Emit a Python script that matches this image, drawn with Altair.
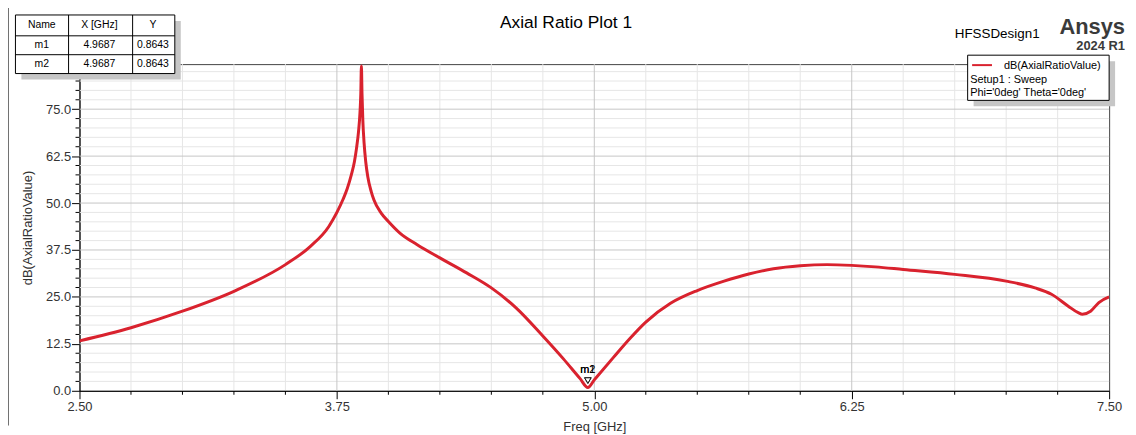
import altair as alt
import pandas as pd

# ---------------- data ----------------
FREQ = [2.50, 2.75, 3.00, 3.25, 3.50, 3.62, 3.71, 3.75, 3.78, 3.80, 3.82, 3.835,
        3.845, 3.855, 3.862, 3.866, 3.869, 3.872, 3.876, 3.882, 3.89, 3.90, 3.917,
        3.93, 3.965, 4.00, 4.056, 4.14, 4.25, 4.38, 4.50, 4.62, 4.75, 4.85, 4.93,
        4.9687, 5.00, 5.093, 5.174, 5.25, 5.37, 5.50, 5.63, 5.75, 5.87, 6.00, 6.13,
        6.25, 6.365, 6.50, 6.75, 7.00, 7.14, 7.22, 7.30, 7.35, 7.37, 7.41, 7.45, 7.50]
AR_DB = [13.3, 16.8, 21.2, 26.5, 33.6, 38.4, 43.7, 47.5, 51.0, 53.8, 57.5, 61.0,
         64.5, 69.0, 74.0, 79.0, 86.5, 79.0, 72.0, 66.0, 61.0, 57.0, 53.0,
         50.8, 47.3, 45.1, 42.0, 38.9, 35.4, 31.4, 27.4, 22.1, 14.6, 8.5, 3.3,
         0.8643, 2.9, 8.9, 14.0, 18.3, 23.3, 26.7, 29.2, 31.1, 32.5, 33.3, 33.6,
         33.4, 33.0, 32.3, 31.0, 29.2, 27.4, 25.7, 22.6, 20.8, 20.4, 21.2, 23.5, 25.0]

MARKER_NAMES = ["m1", "m2"]
MARKER_X = [4.9687, 4.9687]
MARKER_Y = [0.8643, 0.8643]
MARKER_X_TXT = ["4.9687", "4.9687"]
MARKER_Y_TXT = ["0.8643", "0.8643"]
TABLE_HEADERS = ["Name", "X [GHz]", "Y"]

X_LABELS = [2.50, 3.75, 5.00, 6.25, 7.50]
X_GRID_MAJOR = [3.75, 5.00, 6.25]
X_MINOR = [2.75, 3.00, 3.25, 3.50, 4.00, 4.25, 4.50, 4.75,
           5.25, 5.50, 5.75, 6.00, 6.50, 6.75, 7.00, 7.25]
Y_LABELS = [0.0, 12.5, 25.0, 37.5, 50.0, 62.5, 75.0]
Y_GRID_MAJOR = [12.5, 25.0, 37.5, 50.0, 62.5, 75.0]
Y_MINOR = [2.5, 5.0, 7.5, 10.0, 15.0, 17.5, 20.0, 22.5, 27.5, 30.0, 32.5, 35.0,
           40.0, 42.5, 45.0, 47.5, 52.5, 55.0, 57.5, 60.0, 65.0, 67.5, 70.0,
           72.5, 77.5, 80.0, 82.5, 85.0]

TITLE = "Axial Ratio Plot 1"
DESIGN = "HFSSDesign1"
BRAND = "Ansys"
VERSION = "2024 R1"
SERIES = "dB(AxialRatioValue)"
LEGEND_LINES = ["Setup1 : Sweep", "Phi='0deg' Theta='0deg'"]

FONT = "Liberation Sans"
RED = "#d9222e"
GRID_MINOR = "#e6e6e6"
GRID_MAJOR = "#c6c6c6"

curve = pd.DataFrame({"freq": FREQ, "ar": AR_DB})
markers = pd.DataFrame({"name": MARKER_NAMES, "x": MARKER_X, "y": MARKER_Y})
one = pd.DataFrame({"k": [0]})

W, H = 1037, 329

xscale = alt.Scale(domain=[2.5, 7.5], nice=False, zero=False)
yscale = alt.Scale(domain=[0, 87], nice=False, zero=False)

xaxis = alt.Axis(
    values=X_LABELS, title="Freq [GHz]", format=".2f", grid=False,
    labelOverlap=False, labelFlush=False, labelFont=FONT, labelFontSize=13,
    labelColor="#333333", labelPadding=2, tickSize=8,
    tickColor="#000000", domainColor="#000000",
    titleFont=FONT, titleFontSize=13, titleFontWeight="normal", titleColor="#333333",
    titleY=30,
)
yaxis = alt.Axis(
    values=Y_LABELS, title="dB(AxialRatioValue)", format=".1f", grid=False,
    labelOverlap=False, labelFlush=False, labelFont=FONT, labelFontSize=13,
    labelColor="#333333", labelPadding=1, tickSize=8,
    tickColor="#000000", domainColor="#000000",
    titleFont=FONT, titleFontSize=13, titleFontWeight="normal", titleColor="#333333",
    titlePadding=11,
)

XT = "Freq [GHz]"
YT = "dB(AxialRatioValue)"


def vrules(values, color, y1, y2):
    return alt.Chart(pd.DataFrame({"v": values})).mark_rule(color=color, strokeWidth=1).encode(
        x=alt.X("v:Q", scale=xscale, axis=xaxis, title=XT), y=alt.value(y1), y2=alt.value(y2))


def hrules(values, color, x1, x2):
    return alt.Chart(pd.DataFrame({"v": values})).mark_rule(color=color, strokeWidth=1).encode(
        y=alt.Y("v:Q", scale=yscale, axis=yaxis, title=YT), x=alt.value(x1), x2=alt.value(x2))


grid = [
    vrules(X_MINOR, GRID_MINOR, 0, H),
    hrules(Y_MINOR, GRID_MINOR, 0, W),
    vrules(X_GRID_MAJOR, GRID_MAJOR, 0, H),
    hrules(Y_GRID_MAJOR, GRID_MAJOR, 0, W),
    vrules(X_MINOR, "#000000", H, H + 4),
    hrules(Y_MINOR, "#000000", -4, 0),
]

line = alt.Chart(curve).mark_line(color=RED, strokeWidth=3, interpolate="monotone", clip=True).encode(
    x=alt.X("freq:Q", scale=xscale, axis=xaxis, title=XT),
    y=alt.Y("ar:Q", scale=yscale, axis=yaxis, title=YT),
)

tri = alt.Chart(markers).mark_point(shape="triangle-down", filled=False, color="#000000",
                                    size=45, strokeWidth=1, yOffset=-7).encode(
    x=alt.X("x:Q", scale=xscale, axis=xaxis, title=XT),
    y=alt.Y("y:Q", scale=yscale, axis=yaxis, title=YT))
mlab = alt.Chart(markers).mark_text(font=FONT, fontSize=11, color="#000000", dy=-18).encode(
    x=alt.X("x:Q", scale=xscale, axis=xaxis, title=XT),
    y=alt.Y("y:Q", scale=yscale, axis=yaxis, title=YT),
    text="name:N")


def txt(s, x, y, size=11, weight="normal", align="center", color="#000000"):
    return alt.Chart(one).mark_text(text=s, font=FONT, fontSize=size, fontWeight=weight,
                                    align=align, baseline="middle", color=color).encode(
        x=alt.value(x), y=alt.value(y))


def box(x1, x2, y1, y2, fill, stroke=None):
    kw = {"fill": fill}
    if stroke:
        kw.update(stroke=stroke, strokeWidth=1)
    return alt.Chart(one).mark_rect(**kw).encode(
        x=alt.value(x1), x2=alt.value(x2), y=alt.value(y1), y2=alt.value(y2))


def rule(x1, x2, y1, y2, color="#000000", width=1):
    return alt.Chart(one).mark_rule(color=color, strokeWidth=width).encode(
        x=alt.value(x1), x2=alt.value(x2), y=alt.value(y1), y2=alt.value(y2))


layers = grid + [line, tri, mlab]

# outer window border at the far left
layers.append(rule(-71.5, -71.5, -63, 364, color="#707070"))

# marker table (top-left)
tx1, tx2, ty1, ty2 = -64.5, 96, -49.5, 9.5
layers.append(box(tx1 + 6, tx2 + 6, ty1 + 6, ty2 + 6, "#c6c6c6"))
layers.append(box(tx1, tx2, ty1, ty2, "#ffffff", "#000000"))
for cx in (-11, 53.5):
    layers.append(rule(cx, cx, ty1, ty2))
for ry in (-28.5, -9.5):
    layers.append(rule(tx1, tx2, ry, ry))
col_x = [-38, 20, 74]
row_y = [-39, -19, 0]
for h, cx in zip(TABLE_HEADERS, col_x):
    layers.append(txt(h, cx, row_y[0], size=10.5))
for i in range(len(MARKER_NAMES)):
    layers.append(txt(MARKER_NAMES[i], col_x[0], row_y[i + 1], size=10.5))
    layers.append(txt(MARKER_X_TXT[i], col_x[1], row_y[i + 1], size=10.5))
    layers.append(txt(MARKER_Y_TXT[i], col_x[2], row_y[i + 1], size=10.5))

# legend box (top-right)
lx1, lx2, ly1, ly2 = 894.5, 1037, -9, 36.5
layers.append(box(lx1 + 6, lx2 + 6, ly1 + 6, ly2 + 6, "#c6c6c6"))
layers.append(box(lx1, lx2, ly1, ly2, "#ffffff", "#000000"))
layers.append(rule(899, 919, 1, 1, color=RED, width=2))
layers.append(txt(SERIES, 931, 1.5, size=11, align="left"))
layers.append(txt(LEGEND_LINES[0], 897, 16, size=11, align="left"))
layers.append(txt(LEGEND_LINES[1], 897, 29, size=11, align="left"))

# titles
layers.append(txt(TITLE, 490, -41, size=17.5))
layers.append(txt(DESIGN, 881.5, -30, size=13.5, align="left"))
layers.append(txt(BRAND, 1053, -37, size=22, weight="bold", align="right", color="#3a3a3a"))
layers.append(txt(VERSION, 1053, -18.5, size=13, weight="bold", align="right", color="#3a3a3a"))

chart = alt.layer(*layers).properties(
    width=W, height=H,
    autosize=alt.AutoSizeParams(type="none"),
    padding={"left": 72, "top": 55, "right": 19, "bottom": 42},
    background="#ffffff",
).configure_view(stroke="#444444", strokeWidth=1)

chart.save("out.html", embed_options={"renderer": "svg", "actions": False})
